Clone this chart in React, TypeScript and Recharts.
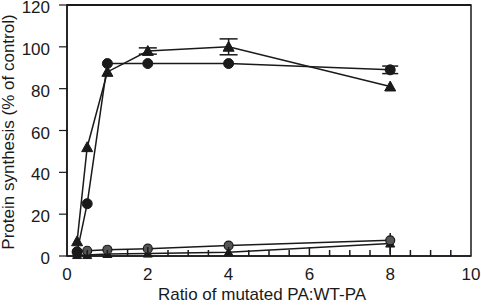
import React from 'react';
import { LineChart, Line, XAxis, YAxis, ErrorBar, ReferenceArea, ReferenceLine } from 'recharts';

const ratios = [0.25, 0.5, 1, 2, 4, 8];
const triangleHigh = [7, 52, 88, 98, 100, 81];
const triangleHighErr = [0, 0, 0, 1.5, 3.8, 0];
const circleHigh = [2, 25, 92, 92, 92, 89];
const circleHighErr = [0, 0, 0, 0, 0, 1.8];
const circleLow = [2, 2.5, 3, 3.5, 5, 7.5];
const triangleLow = [0.5, 0.5, 1, 1.2, 1.8, 6];
const triangleLowErr = [0, 0, 0, 0, 0, 5];
const xTicks = [0, 0.5, 1, 1.5, 2, 2.5, 3, 3.5, 4, 4.5, 5, 5.5, 6, 6.5, 7, 7.5, 8, 8.5, 9, 9.5, 10];
const yTicks = [0, 20, 40, 60, 80, 100, 120];

const data = ratios.map((x, i) => ({
  x,
  tH: triangleHigh[i],
  tHe: triangleHighErr[i],
  cH: circleHigh[i],
  cHe: circleHighErr[i],
  cL: circleLow[i],
  tL: triangleLow[i],
  tLe: triangleLowErr[i],
}));

const FONT = 'Liberation Sans, Arial, Helvetica, sans-serif';
const INK = '#1a1a1a';

const XTick = (props: any) => {
  const { x, y, payload } = props;
  const v = payload.value as number;
  const major = v % 2 === 0;
  return (
    <g>
      {v > 0 && v < 10 && (
        <line x1={x} x2={x} y1={y} y2={y - (major ? 9 : 6)} stroke={INK} strokeWidth={1.5} />
      )}
      {major && (
        <text x={x} y={y + 24} textAnchor="middle" fontSize={17} fontFamily={FONT} fill={INK}>
          {v}
        </text>
      )}
    </g>
  );
};

const YTick = (props: any) => {
  const { x, y, payload } = props;
  return (
    <g>
      <line x1={x + 1} x2={x - 8} y1={y} y2={y} stroke={INK} strokeWidth={1.2} />
      <text x={x - 17} y={y + 8} textAnchor="end" fontSize={17} fontFamily={FONT} fill={INK}>
        {payload.value}
      </text>
    </g>
  );
};

const Triangle = (props: any) => {
  const { cx, cy } = props;
  if (cx == null || cy == null) return null;
  const s = 5.5;
  return (
    <path
      d={`M${cx},${cy - s} L${cx + s},${cy + s * 0.8} L${cx - s},${cy + s * 0.8} Z`}
      fill={INK}
      stroke={INK}
      strokeWidth={1}
    />
  );
};

const SmallTriangle = (props: any) => {
  const { cx, cy } = props;
  if (cx == null || cy == null) return null;
  const s = 4.5;
  return (
    <path
      d={`M${cx},${cy - s} L${cx + s},${cy + s * 0.8} L${cx - s},${cy + s * 0.8} Z`}
      fill={INK}
      stroke={INK}
      strokeWidth={1}
    />
  );
};

export default function App() {
  return (
    <div style={{ position: 'absolute', left: 0, top: 0, background: '#fff' }}>
      <LineChart
        width={481}
        height={306}
        data={data}
        margin={{ top: 5, right: 10, bottom: 0, left: 0 }}
      >
        <ReferenceArea
          x1={0}
          x2={10}
          y1={0}
          y2={120}
          fill="none"
          fillOpacity={0}
          stroke={INK}
          strokeWidth={1.5}
          ifOverflow="visible"
        />
        <ReferenceLine y={120} stroke={INK} strokeWidth={2.2} ifOverflow="visible" />
        <XAxis
          dataKey="x"
          type="number"
          domain={[0, 10]}
          ticks={xTicks}
          interval={0}
          height={50}
          tickSize={0}
          tickMargin={0}
          tickLine={false}
          tick={<XTick />}
          axisLine={{ stroke: INK, strokeWidth: 1.5 }}
          label={{
            content: () => (
              <text x={262} y={300} textAnchor="middle" fontSize={17} fontFamily={FONT} fill={INK}>
                Ratio of mutated PA:WT-PA
              </text>
            ),
          }}
        />
        <YAxis
          type="number"
          domain={[0, 120]}
          ticks={yTicks}
          interval={0}
          width={67}
          tickSize={0}
          tickMargin={0}
          tickLine={false}
          tick={<YTick />}
          axisLine={{ stroke: INK, strokeWidth: 1.5 }}
          label={{
            content: () => (
              <text
                x={14}
                y={132}
                transform="rotate(-90 14 132)"
                textAnchor="middle"
                fontSize={17}
                fontFamily={FONT}
                fill={INK}
              >
                Protein synthesis (% of control)
              </text>
            ),
          }}
        />
        <Line
          dataKey="tL"
          stroke={INK}
          strokeWidth={1.5}
          dot={<SmallTriangle />}
          isAnimationActive={false}
        >
          <ErrorBar dataKey="tLe" width={0} stroke={INK} strokeWidth={1.5} />
        </Line>
        <Line
          dataKey="cL"
          stroke={INK}
          strokeWidth={1.5}
          dot={{ r: 4.5, fill: '#555', stroke: INK, strokeWidth: 1.2 }}
          isAnimationActive={false}
        />
        <Line
          dataKey="cH"
          stroke={INK}
          strokeWidth={1.5}
          dot={{ r: 5, fill: INK, stroke: INK, strokeWidth: 1 }}
          isAnimationActive={false}
        >
          <ErrorBar dataKey="cHe" width={8} stroke={INK} strokeWidth={1.5} />
        </Line>
        <Line
          dataKey="tH"
          stroke={INK}
          strokeWidth={1.5}
          dot={<Triangle />}
          isAnimationActive={false}
        >
          <ErrorBar dataKey="tHe" width={9} stroke={INK} strokeWidth={1.5} />
        </Line>
      </LineChart>
    </div>
  );
}
